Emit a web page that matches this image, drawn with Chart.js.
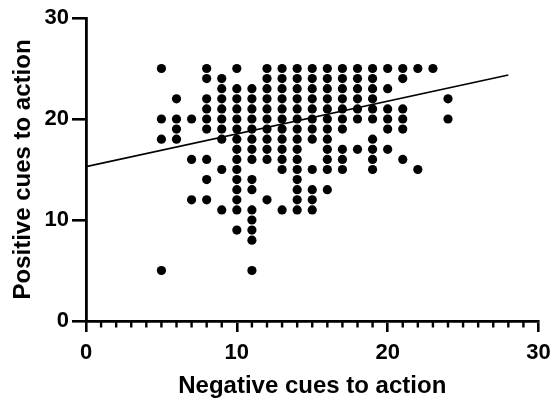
<!DOCTYPE html>
<html>
<head>
<meta charset="utf-8">
<script src="https://cdn.jsdelivr.net/npm/chart.js@4"></script>
<style>
  html, body { margin: 0; padding: 0; background: #ffffff; }
  #wrap { width: 552px; height: 403px; }
</style>
</head>
<body>
<div id="wrap"><canvas id="c" width="552" height="403"></canvas></div>
<script>
// Negative cues to action (x) values present in the data
const negativeCues = [5, 6, 7, 8, 9, 10, 11, 12, 13, 14, 15, 16, 17, 18, 19, 20, 21, 22, 23, 24];
// Positive cues to action (y) values observed for each x above
const positiveCues = [
  [25, 20, 18, 5],
  [22, 20, 19, 18],
  [20, 16, 12],
  [25, 24, 22, 21, 20, 19, 16, 14, 12],
  [24, 23, 22, 21, 20, 19, 18, 15, 11],
  [25, 23, 22, 21, 20, 19, 18, 17, 16, 15, 14, 13, 12, 11, 9],
  [23, 22, 21, 20, 19, 18, 17, 16, 14, 13, 11, 10, 9, 8, 5],
  [25, 24, 23, 22, 21, 20, 19, 18, 17, 16, 12],
  [25, 24, 23, 22, 21, 20, 19, 18, 17, 16, 15, 11],
  [25, 24, 23, 22, 21, 20, 19, 18, 17, 16, 15, 14, 13, 12, 11],
  [25, 24, 23, 22, 21, 20, 19, 18, 15, 13, 12, 11],
  [25, 24, 23, 22, 21, 20, 19, 18, 17, 16, 15, 13],
  [25, 24, 23, 22, 21, 20, 19, 17, 16, 15],
  [25, 24, 23, 22, 21, 20, 17],
  [25, 24, 23, 22, 21, 20, 18, 17, 16, 15],
  [25, 23, 21, 20, 19, 17],
  [25, 24, 21, 20, 19, 16],
  [25, 15],
  [25],
  [22, 20]
];
// Regression line end points
const trendX = [0, 28];
const trendY = [15.28, 24.35];
// Axis ticks
const xTicks = [0, 10, 20, 30];
const yTicks = [0, 10, 20, 30];
const xMinorTicks = [1,2,3,4,5,6,7,8,9,11,12,13,14,15,16,17,18,19,21,22,23,24,25,26,27,28,29];

const xTitle = 'Negative cues to action';
const yTitle = 'Positive cues to action';

const scatterPoints = [];
negativeCues.forEach((x, i) => {
  positiveCues[i].forEach(y => scatterPoints.push({ x: x, y: y }));
});
const trendPoints = trendX.map((x, i) => ({ x: x, y: trendY[i] }));

const FONT = "'Liberation Sans', Arial, sans-serif";

const minorTickPlugin = {
  id: 'minorTicks',
  afterDraw(chart) {
    const xs = chart.scales.x;
    const ctx = chart.ctx;
    const y0 = chart.chartArea.bottom;
    ctx.save();
    ctx.strokeStyle = '#000';
    ctx.lineWidth = 2.4;
    ctx.beginPath();
    xMinorTicks.forEach(v => {
      const px = xs.getPixelForValue(v);
      ctx.moveTo(px, y0);
      ctx.lineTo(px, y0 + 6.5);
    });
    ctx.stroke();
    ctx.restore();
  }
};

new Chart(document.getElementById('c'), {
  type: 'scatter',
  data: {
    datasets: [
      {
        type: 'line',
        data: trendPoints,
        borderColor: '#000',
        borderWidth: 1.6,
        pointRadius: 0,
        fill: false,
        order: 0
      },
      {
        type: 'scatter',
        data: scatterPoints,
        backgroundColor: '#000',
        borderColor: '#000',
        borderWidth: 0,
        pointRadius: 4.6,
        pointHoverRadius: 4.6,
        order: 1
      }
    ]
  },
  options: {
    responsive: false,
    animation: false,
    devicePixelRatio: 1,
    layout: { padding: { left: 0, top: 18, right: 13.5, bottom: 0 } },
    plugins: { legend: { display: false }, tooltip: { enabled: false } },
    scales: {
      x: {
        type: 'linear',
        min: 0, max: 30,
        afterFit(scale) { scale.height = 82; scale.paddingRight = 10; scale.paddingLeft = 0; },
        afterBuildTicks(scale) { scale.ticks = xTicks.map(v => ({ value: v })); },
        border: { display: true, color: '#000', width: 2.8 },
        grid: { display: true, drawOnChartArea: false, drawTicks: true, tickLength: 11, color: '#000', lineWidth: 2.6 },
        ticks: { color: '#000', font: { family: FONT, size: 22, weight: 'bold' }, padding: 8, maxRotation: 0 },
        title: { display: true, text: xTitle, color: '#000', font: { family: FONT, size: 24, weight: 'bold' }, padding: { top: 0, bottom: 2.5 } }
      },
      y: {
        type: 'linear',
        min: 0, max: 30,
        afterFit(scale) { scale.width = 86; },
        afterBuildTicks(scale) { scale.ticks = yTicks.map(v => ({ value: v })); },
        border: { display: true, color: '#000', width: 2.8 },
        grid: { display: true, drawOnChartArea: false, drawTicks: true, tickLength: 14, color: '#000', lineWidth: 2.6 },
        ticks: { color: '#000', font: { family: FONT, size: 22, weight: 'bold' }, padding: 3 },
        title: { display: true, text: yTitle, color: '#000', font: { family: FONT, size: 24, weight: 'bold' }, padding: { top: 9, bottom: 0 } }
      }
    }
  },
  plugins: [minorTickPlugin]
});
</script>
</body>
</html>
